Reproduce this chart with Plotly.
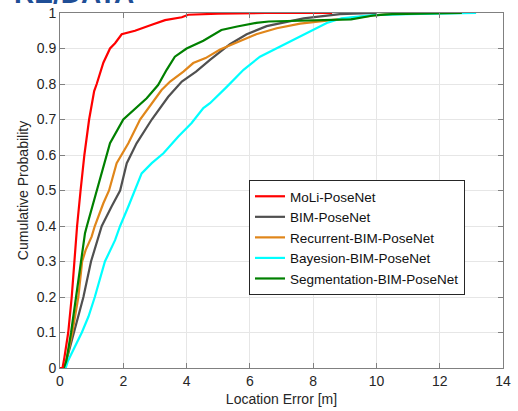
import plotly.graph_objects as go

# ---- data ----
moli_x = [0.0, 0.08, 0.14, 0.26, 0.37, 0.45, 0.54, 0.65, 0.77, 0.92, 1.08, 1.16, 1.37, 1.58, 1.74, 1.95, 2.37, 2.9, 3.32, 3.85, 4.05, 5.0, 6.5, 8.6]
moli_y = [0.0, 0.0, 0.03, 0.1, 0.2, 0.3, 0.4, 0.5, 0.6, 0.7, 0.78, 0.8, 0.86, 0.9, 0.915, 0.94, 0.95, 0.967, 0.98, 0.988, 0.995, 0.998, 1.0, 1.0]

bim_x = [0.14, 0.2, 0.32, 0.45, 0.74, 0.98, 1.19, 1.32, 1.63, 1.9, 2.11, 2.42, 2.9, 3.42, 3.85, 4.3, 4.74, 5.37, 5.9, 6.53, 7.7, 8.85, 10.0]
bim_y = [0.0, 0.02, 0.06, 0.1, 0.2, 0.3, 0.36, 0.4, 0.455, 0.5, 0.577, 0.633, 0.7, 0.764, 0.807, 0.835, 0.868, 0.912, 0.94, 0.963, 0.985, 0.997, 1.0]

rec_x = [0.14, 0.2, 0.39, 0.58, 0.7, 0.81, 1.0, 1.1, 1.37, 1.55, 1.79, 2.16, 2.53, 2.9, 3.21, 3.48, 3.9, 4.21, 4.6, 5.06, 5.64, 6.2, 6.85, 7.59, 9.06, 10.3, 11.0]
rec_y = [0.0, 0.02, 0.1, 0.2, 0.3, 0.332, 0.37, 0.4, 0.464, 0.5, 0.577, 0.633, 0.7, 0.746, 0.783, 0.807, 0.835, 0.859, 0.873, 0.897, 0.92, 0.94, 0.957, 0.97, 0.985, 0.997, 1.0]

bay_x = [0.18, 0.25, 0.69, 0.9, 1.1, 1.42, 1.74, 1.9, 2.16, 2.37, 2.58, 2.9, 3.27, 3.74, 4.16, 4.53, 4.74, 5.27, 5.8, 6.32, 6.95, 7.59, 8.0, 8.43, 8.9, 9.9, 11.0, 13.15]
bay_y = [0.0, 0.02, 0.1, 0.145, 0.2, 0.3, 0.36, 0.4, 0.455, 0.5, 0.548, 0.577, 0.605, 0.652, 0.69, 0.732, 0.746, 0.792, 0.84, 0.877, 0.906, 0.934, 0.952, 0.972, 0.985, 0.994, 0.997, 1.0]

seg_x = [0.12, 0.2, 0.35, 0.5, 0.66, 0.79, 0.85, 1.02, 1.17, 1.4, 1.58, 2.0, 2.32, 2.74, 3.1, 3.37, 3.63, 4.0, 4.53, 5.1, 5.6, 6.2, 6.6, 7.9, 9.2, 9.9, 10.5, 12.7]
seg_y = [0.0, 0.02, 0.1, 0.2, 0.3, 0.38, 0.4, 0.455, 0.5, 0.577, 0.633, 0.7, 0.727, 0.76, 0.797, 0.84, 0.877, 0.9, 0.922, 0.952, 0.962, 0.972, 0.976, 0.98, 0.982, 0.993, 0.997, 1.0]

series_names = ["MoLi-PoseNet", "BIM-PoseNet", "Recurrent-BIM-PoseNet", "Bayesion-BIM-PoseNet", "Segmentation-BIM-PoseNet"]
series_colors = ["#ff0000", "#505050", "#e0861a", "#00ffff", "#008000"]
series_x = [moli_x, bim_x, rec_x, bay_x, seg_x]
series_y = [moli_y, bim_y, rec_y, bay_y, seg_y]

x_ticks = [0, 2, 4, 6, 8, 10, 12, 14]
y_ticks = [0, 0.1, 0.2, 0.3, 0.4, 0.5, 0.6, 0.7, 0.8, 0.9, 1]
y_tick_text = ["0", "0.1", "0.2", "0.3", "0.4", "0.5", "0.6", "0.7", "0.8", "0.9", "1"]

fig = go.Figure()
draw_order = [1, 2, 3, 4, 0]
for i in draw_order:
    fig.add_trace(go.Scatter(
        x=series_x[i], y=series_y[i], mode="lines", name=series_names[i],
        line=dict(color=series_colors[i], width=2.2), legendrank=i + 1,
    ))

axis_common = dict(
    showline=True, mirror="ticks", linecolor="#808080", linewidth=1,
    ticks="inside", ticklen=5, tickcolor="#808080",
    showgrid=True, gridcolor="#e6e6e6", gridwidth=1, zeroline=False,
    automargin=False,
    tickfont=dict(family="Liberation Sans, Arial", size=14, color="#262626"),
)

fig.update_xaxes(range=[0, 14], tickvals=x_ticks,
                 title=dict(text="Location Error [m]", standoff=6,
                            font=dict(family="Liberation Sans, Arial", size=14, color="#262626")),
                 **axis_common)
fig.update_yaxes(range=[0, 1], tickvals=y_ticks, ticktext=y_tick_text,
                 title=dict(text="Cumulative Probability", standoff=4,
                            font=dict(family="Liberation Sans, Arial", size=14, color="#262626")),
                 **axis_common)

fig.update_layout(
    width=518, height=411,
    margin=dict(l=60, r=15, t=13, b=43),
    plot_bgcolor="white", paper_bgcolor="white",
    legend=dict(x=(249 - 60) / 443, y=(368 - 237.5) / 355, xanchor="left", yanchor="middle",
                bgcolor="white", bordercolor="#262626", borderwidth=1,
                font=dict(family="Liberation Sans, Arial", size=13.5, color="#111111"),
                tracegroupgap=0, itemwidth=30),
    showlegend=True,
)

fig.add_annotation(
    text="<b>RE/DATA</b>", xref="paper", yref="paper",
    x=(135 - 60) / 443, y=(368 - 10) / 355, xanchor="right", yanchor="bottom",
    showarrow=False, borderpad=0,
    font=dict(family="Liberation Sans, Arial", size=28, color="#1f4e96"),
)

fig.write_html("out.html", config={"displayModeBar": False},
               post_script="document.body.style.margin='0';document.body.style.overflow='hidden';")
